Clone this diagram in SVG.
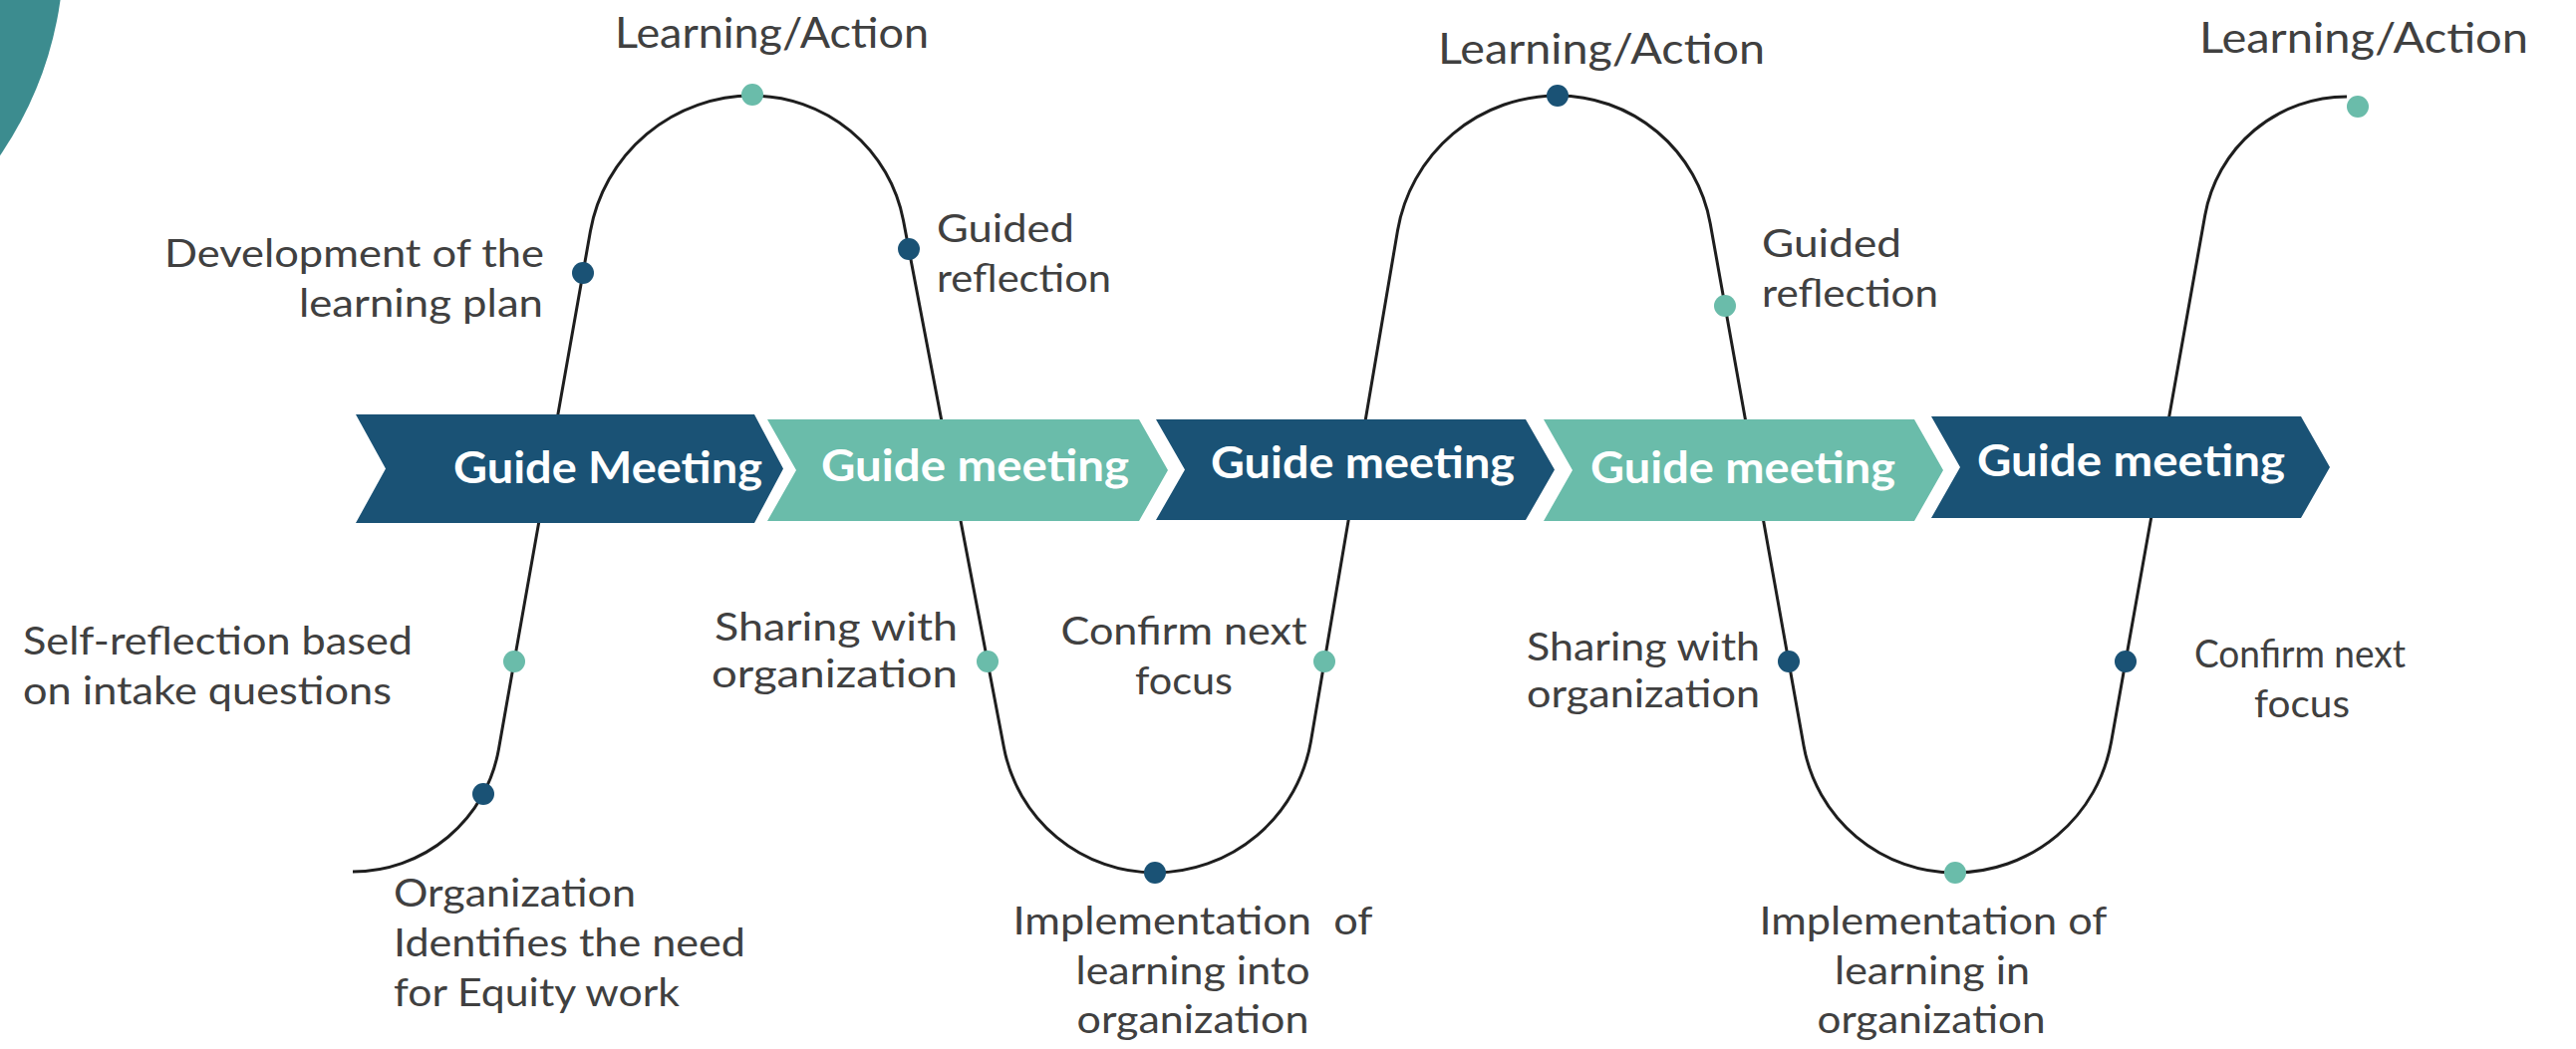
<svg xmlns="http://www.w3.org/2000/svg" width="2585" height="1053" viewBox="0 0 2585 1053">
<style>
.lbl { font-family: Lato, 'Liberation Sans', sans-serif; font-size: 38px; fill: #404040; }
.la { font-size: 43px; }
.ct { font-family: Lato, 'Liberation Sans', sans-serif; font-weight: 700; font-size: 44px; fill: #ffffff; }
.dark { fill: #1a5275; }
.teal { fill: #6abcaa; }
.curve { fill: none; stroke: #1e1e1e; stroke-width: 3; }
.mid { text-anchor: middle; }
</style>
<rect x="0" y="0" width="2585" height="1053" fill="#ffffff"/>
<circle cx="-300" cy="-50" r="364" fill="#3c8c8f"/>

<g id="connectors">
<path class="curve" d="M354,875 A148.7,148.7 0 0 0 500.4,752.2 L592.4,232.3 A165.1,165.1 0 0 1 755,96 A154.2,154.2 0 0 1 906.5,221.3 L1007.5,750.7 A154.2,154.2 0 0 0 1159,876 A158.7,158.7 0 0 0 1315.5,743.9 L1402.5,231.5 A162.8,162.8 0 0 1 1563,96 A155.6,155.6 0 0 1 1716.2,224.2 L1810.1,748.9 A154.3,154.3 0 0 0 1962,876 A159.1,159.1 0 0 0 2118.6,744.8 L2212.7,216.2 A144.5,144.5 0 0 1 2355,97"/>
</g>

<g id="chevron-1">
<polygon class="dark" points="357,416 757,416 786,470.5 757,525 357,525 387,470.5"/>
<text class="ct" x="455" y="485" textLength="310" lengthAdjust="spacingAndGlyphs">Guide Meeting</text>
</g>
<g id="chevron-2">
<polygon class="teal" points="770,421 1143,421 1172,472 1143,523 770,523 799,472"/>
<text class="ct" x="824" y="483" textLength="309" lengthAdjust="spacingAndGlyphs">Guide meeting</text>
</g>
<g id="chevron-3">
<polygon class="dark" points="1160,421 1531,421 1560,471.5 1531,522 1160,522 1189,471.5"/>
<text class="ct" x="1215" y="480" textLength="305" lengthAdjust="spacingAndGlyphs">Guide meeting</text>
</g>
<g id="chevron-4">
<polygon class="teal" points="1549,421 1921,421 1950,472 1921,523 1549,523 1578,472"/>
<text class="ct" x="1596" y="485" textLength="306" lengthAdjust="spacingAndGlyphs">Guide meeting</text>
</g>
<g id="chevron-5">
<polygon class="dark" points="1938,418 2309,418 2338,469 2309,520 1938,520 1967,469"/>
<text class="ct" x="1984" y="478" textLength="309" lengthAdjust="spacingAndGlyphs">Guide meeting</text>
</g>

<g id="point-1">
<circle class="dark" cx="485" cy="797" r="11"/>
<text class="lbl" x="395" y="910" textLength="243" lengthAdjust="spacingAndGlyphs">Organization</text>
<text class="lbl" x="395" y="960" textLength="353" lengthAdjust="spacingAndGlyphs">Identifies the need</text>
<text class="lbl" x="395" y="1010" textLength="287" lengthAdjust="spacingAndGlyphs">for Equity work</text>
</g>
<g id="point-2">
<circle class="teal" cx="516" cy="664" r="11"/>
<text class="lbl" x="23" y="657" textLength="391" lengthAdjust="spacingAndGlyphs">Self-reflection based</text>
<text class="lbl" x="23" y="707" textLength="370" lengthAdjust="spacingAndGlyphs">on intake questions</text>
</g>
<g id="point-3">
<circle class="dark" cx="585" cy="274" r="11"/>
<text class="lbl" x="165" y="268" textLength="381" lengthAdjust="spacingAndGlyphs">Development of the</text>
<text class="lbl" x="300" y="318" textLength="245" lengthAdjust="spacingAndGlyphs">learning plan</text>
</g>
<g id="point-4">
<circle class="teal" cx="755" cy="95" r="11"/>
<text class="lbl la" x="617" y="48" textLength="315" lengthAdjust="spacingAndGlyphs">Learning/Action</text>
</g>
<g id="point-5">
<circle class="dark" cx="912" cy="250" r="11"/>
<text class="lbl" x="940" y="243" textLength="138" lengthAdjust="spacingAndGlyphs">Guided</text>
<text class="lbl" x="940" y="293" textLength="175" lengthAdjust="spacingAndGlyphs">reflection</text>
</g>
<g id="point-6">
<circle class="teal" cx="991" cy="664" r="11"/>
<text class="lbl" x="717" y="643" textLength="244" lengthAdjust="spacingAndGlyphs">Sharing with</text>
<text class="lbl" x="714" y="690" textLength="247" lengthAdjust="spacingAndGlyphs">organization</text>
</g>
<g id="point-7">
<circle class="dark" cx="1159" cy="876" r="11"/>
<text class="lbl mid" x="1197" y="938" textLength="361" lengthAdjust="spacingAndGlyphs" style="white-space:pre">Implementation  of</text>
<text class="lbl mid" x="1197" y="988" textLength="235" lengthAdjust="spacingAndGlyphs">learning into</text>
<text class="lbl mid" x="1197" y="1037" textLength="233" lengthAdjust="spacingAndGlyphs">organization</text>
</g>
<g id="point-8">
<circle class="teal" cx="1329" cy="664" r="11"/>
<text class="lbl mid" x="1188" y="647" textLength="247" lengthAdjust="spacingAndGlyphs">Confirm next</text>
<text class="lbl mid" x="1188" y="697" textLength="98" lengthAdjust="spacingAndGlyphs">focus</text>
</g>
<g id="point-9">
<circle class="dark" cx="1563" cy="96" r="11"/>
<text class="lbl la" x="1443" y="64" textLength="328" lengthAdjust="spacingAndGlyphs">Learning/Action</text>
</g>
<g id="point-10">
<circle class="teal" cx="1731" cy="307" r="11"/>
<text class="lbl" x="1768" y="258" textLength="140" lengthAdjust="spacingAndGlyphs">Guided</text>
<text class="lbl" x="1768" y="308" textLength="177" lengthAdjust="spacingAndGlyphs">reflection</text>
</g>
<g id="point-11">
<circle class="dark" cx="1795" cy="664" r="11"/>
<text class="lbl" x="1532" y="663" textLength="234" lengthAdjust="spacingAndGlyphs">Sharing with</text>
<text class="lbl" x="1532" y="710" textLength="234" lengthAdjust="spacingAndGlyphs">organization</text>
</g>
<g id="point-12">
<circle class="teal" cx="1962" cy="876" r="11"/>
<text class="lbl mid" x="1940" y="938" textLength="349" lengthAdjust="spacingAndGlyphs">Implementation of</text>
<text class="lbl mid" x="1939" y="988" textLength="196" lengthAdjust="spacingAndGlyphs">learning in</text>
<text class="lbl mid" x="1938" y="1037" textLength="229" lengthAdjust="spacingAndGlyphs">organization</text>
</g>
<g id="point-13">
<circle class="dark" cx="2133" cy="664" r="11"/>
<text class="lbl mid" x="2308" y="670" textLength="212" lengthAdjust="spacingAndGlyphs">Confirm next</text>
<text class="lbl mid" x="2310" y="720" textLength="96" lengthAdjust="spacingAndGlyphs">focus</text>
</g>
<g id="point-14">
<circle class="teal" cx="2366" cy="107" r="11"/>
<text class="lbl la" x="2207" y="53" textLength="330" lengthAdjust="spacingAndGlyphs">Learning/Action</text>
</g>
</svg>
